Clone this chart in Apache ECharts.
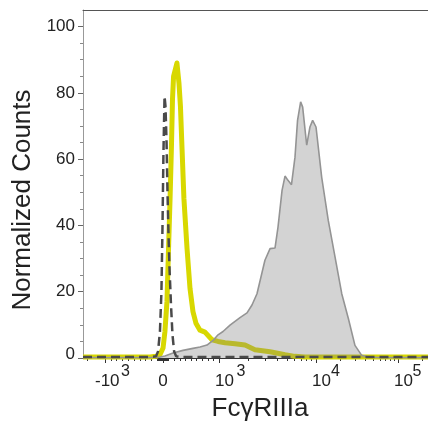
<!DOCTYPE html>
<html>
<head>
<meta charset="UTF-8">
<title>FcγRIIIa histogram</title>
<script src="https://cdn.jsdelivr.net/npm/echarts@6/dist/echarts.min.js"></script>
<style>
  html, body { margin: 0; padding: 0; background: #fff; }
  #chart { width: 428px; height: 423px; }
</style>
</head>
<body>
<div id="chart"></div>
<script>
// histogram data, x in display channels (0..256 across the plot)
var stainedCh = [0, 49.7, 57.1, 60.8, 66.8, 74.2, 81.6, 86.8, 92.0, 96.5, 100.2, 103.9, 109.1, 116.5, 121.7, 125.4, 129.1, 132.1, 135.0, 138.8, 142.5, 144.7, 147.7, 149.9, 152.1, 154.7, 157.3, 159.2, 161.5, 163.0, 166.0, 168.4, 170.4, 172.9, 177.1, 182.0, 187.0, 192.0, 196.9, 201.8, 206.8, 211.5, 220.4, 256];
var stainedCounts = [0.1, 0.1, 0.3, 0.6, 1.5, 2.3, 2.9, 3.3, 3.9, 5.3, 7.0, 8.0, 9.9, 12.2, 13.6, 16.0, 19.4, 24.5, 29.5, 33.0, 33.2, 39.5, 50.6, 54.9, 53.6, 52.3, 60.6, 71.7, 77.3, 75.7, 64.2, 69.7, 71.7, 69.7, 54.6, 41.5, 30.5, 19.4, 11.9, 3.8, 0.8, 0.3, 0.1, 0.1];

var yellowCh = [0, 49.7, 54.2, 57.1, 59.4, 60.8, 62.3, 63.4, 64.6, 65.7, 66.4, 67.2, 69.7, 71.2, 72.3, 73.5, 74.9, 77.2, 79.4, 81.6, 83.8, 86.8, 90.5, 95.7, 100.2, 105.4, 112.8, 120.2, 127.6, 138.8, 149.9, 157.3, 164.7, 256];
var yellowCounts = [0.3, 0.3, 0.5, 1, 3, 8, 17, 32, 48, 65, 78, 85, 89, 83, 76, 63, 48, 33, 21, 14, 10.5, 8.4, 7.8, 5.5, 5.0, 4.6, 4.3, 3.9, 2.5, 1.9, 1.0, 0.5, 0.3, 0.3];

var controlCh = [0, 49.7, 54.2, 55.7, 57.1, 58.2, 59.0, 59.7, 60.5, 61.2, 62.0, 62.7, 63.4, 64.2, 65.3, 66.4, 67.6, 69.1, 72.0, 256];
var controlCounts = [0.3, 0.3, 0.5, 2, 8, 20, 40, 62, 79, 76, 65, 50, 38, 27, 16, 7, 2, 0.5, 0.3, 0.3];

// axis ticks (fluorescence values) and labels
var majorVals = [-1000, 0, 1000, 10000, 100000];
var labelBase = ['-10', '0', '10', '10', '10'];
var labelExp = ['3', '', '3', '4', '5'];
var minorVals = [-2000, -900, -800, -700, -600, -500, -400, -300, -200, -100,
  -90, -80, -70, -60, -50, -40, -30, -20, -10, 10, 20, 30, 40, 50, 60, 70, 80, 90,
  100, 200, 300, 400, 500, 600, 700, 800, 900,
  2000, 3000, 4000, 5000, 6000, 7000, 8000, 9000,
  20000, 30000, 40000, 50000, 60000, 70000, 80000, 90000, 200000];
var yMajor = [0, 20, 40, 60, 80, 100];
var yMinor = [5, 10, 15, 25, 30, 35, 45, 50, 55, 65, 70, 75, 85, 90, 95];

// biexponential-like display transform: value -> channel
function toCh(v) {
  if (v >= 1e4) return 172.9 + 60.8 * Math.log10(v / 1e4);
  if (v >= 1e3) return 100.9 + 72.0 * Math.log10(v / 1e3);
  if (v >= 0) return 59.4 + 0.0415 * v;
  if (v >= -1e3) return 59.4 + 0.0431 * v;
  return 16.3 - 43 * Math.log10(-v / 1e3);
}

function zip(xs, ys) {
  return xs.map(function (x, i) { return [x, ys[i]]; });
}

function nearest(arr, v) {
  var i = 0, best = 1e9;
  arr.forEach(function (c, k) { if (Math.abs(c - v) < best) { best = Math.abs(c - v); i = k; } });
  return i;
}

var pxToCh = 256 / 345;
var majorCh = majorVals.map(toCh);
var minorCh = minorVals.map(toCh).filter(function (c) { return c >= 0 && c <= 256; });
// label placement offsets from the tick, in pixels
var baseOff = [2.3, 0, 5.5, 5.5, 5.5];
var expOff = [20.5, 0, 22, 19.5, 19];
var baseCh = majorCh.map(function (c, i) { return c + baseOff[i] * pxToCh; });
var expIdx = [0, 2, 3, 4];
var expCh = expIdx.map(function (i) { return majorCh[i] + expOff[i] * pxToCh; });

var font = 'Liberation Sans, Arial, sans-serif';

var chart = echarts.init(document.getElementById('chart'), null, { renderer: 'canvas' });

var option = {
  animation: false,
  textStyle: { fontFamily: font },
  grid: { left: 83, right: 0, top: 10, bottom: 65, containLabel: false, outerBoundsMode: 'none' },
  xAxis: [{
    type: 'value', min: 0, max: 256, position: 'bottom',
    name: 'FcγRIIIa', nameLocation: 'middle', nameGap: 38,
    nameTextStyle: { fontSize: 26, color: '#222', fontFamily: font, padding: [0, 0, 0, 9] },
    axisLine: { onZero: false, lineStyle: { color: '#333', width: 1 } },
    axisTick: { customValues: majorCh, length: 5, lineStyle: { color: '#333' } },
    axisLabel: {
      customValues: baseCh, margin: 15, fontSize: 17, color: '#222', fontFamily: font,
      formatter: function (val) { return labelBase[nearest(baseCh, val)]; }
    },
    splitLine: { show: false }
  }, {
    type: 'value', min: 0, max: 256, position: 'bottom',
    axisLine: { show: false, onZero: false },
    axisTick: { customValues: minorCh, length: 3, lineStyle: { color: '#333' } },
    axisLabel: {
      customValues: expCh, margin: 6, fontSize: 16, color: '#222', fontFamily: font,
      formatter: function (val) { return labelExp[expIdx[nearest(expCh, val)]]; }
    },
    splitLine: { show: false }
  }, {
    type: 'value', min: 0, max: 256, position: 'top',
    axisLine: { onZero: false, lineStyle: { color: '#555', width: 1 } },
    axisTick: { show: false },
    axisLabel: { show: false },
    splitLine: { show: false }
  }],
  yAxis: [{
    type: 'value', min: 0, max: 105, position: 'left',
    name: 'Normalized Counts', nameLocation: 'middle', nameGap: 46,
    nameTextStyle: { fontSize: 26, color: '#222', fontFamily: font, padding: [0, 32, 0, 0] },
    axisLine: { show: true, onZero: false, lineStyle: { color: '#999', width: 1 } },
    axisTick: { customValues: yMajor, length: 5, lineStyle: { color: '#666' } },
    axisLabel: {
      customValues: yMajor, margin: 8, fontSize: 17, color: '#222', fontFamily: font,
      formatter: function (v) { return v === 0 ? '{y0|0}' : String(v); },
      rich: { y0: { fontSize: 17, color: '#222', fontFamily: font, padding: [0, 0, 8, 0] } }
    },
    splitLine: { show: false }
  }, {
    type: 'value', min: 0, max: 105, position: 'left',
    axisLine: { show: false, onZero: false },
    axisTick: { customValues: yMinor, length: 3, lineStyle: { color: '#888' } },
    axisLabel: { show: false },
    splitLine: { show: false }
  }],
  series: [{
    name: 'anti-FcγRIIIa',
    type: 'line', showSymbol: false, z: 2,
    data: zip(yellowCh, yellowCounts),
    lineStyle: { color: '#d8d800', width: 5, join: 'round' }
  }, {
    name: 'stained',
    type: 'line', showSymbol: false, z: 3,
    data: zip(stainedCh, stainedCounts),
    lineStyle: { color: '#949494', width: 1.6 },
    areaStyle: { color: 'rgba(128,128,128,0.35)', opacity: 1 }
  }, {
    name: 'control',
    type: 'line', showSymbol: false, z: 4,
    data: zip(controlCh, controlCounts),
    lineStyle: { color: '#4a4a4a', width: 2.5, type: [9, 5] }
  }]
};

chart.setOption(option);
</script>
</body>
</html>
